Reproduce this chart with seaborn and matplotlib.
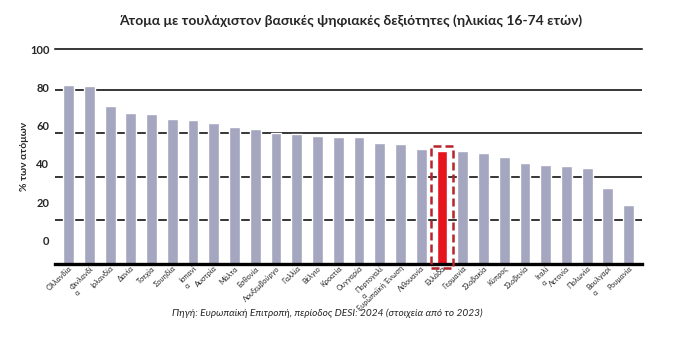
import matplotlib
matplotlib.use("Agg")
import matplotlib.pyplot as plt
from matplotlib.patches import Rectangle
import seaborn as sns
import pandas as pd

countries = ["Ολλανδία", "Φινλανδί\nα", "Ιρλανδία", "Δανία", "Τσεχία", "Σουηδία",
             "Ισπανί\nα", "Αυστρία", "Μάλτα", "Εσθονία", "Λουξεμβούργο", "Γαλλία",
             "Βέλγιο", "Κροατία", "Ουγγαρία", "Πορτογαλί\nα", "Ευρωπαϊκή Ένωση",
             "Λιθουανία", "Ελλάδα", "Γερμανία", "Σλοβακία", "Κύπρος", "Σλοβενία",
             "Ιταλί\nα", "Λετονία", "Πολωνία", "Βουλγαρί\nα", "Ρουμανία"]
values = [82.3, 81.7, 72.5, 69.3, 68.8, 66.4, 66.0, 64.6, 62.7, 62.0, 60.0, 59.6,
          58.9, 58.4, 58.5, 55.4, 55.3, 52.6, 51.8, 51.7, 50.8, 49.0, 46.3, 45.3,
          44.8, 43.9, 34.9, 27.2]
highlight = "Ελλάδα"
grid_values = [20, 40, 60, 80]
ytick_labels = [0, 20, 40, 60, 80, 100]

title = "Άτομα με τουλάχιστον βασικές ψηφιακές δεξιότητες (ηλικίας 16-74 ετών)"
ylabel = "% των ατόμων"
source = "Πηγή: Ευρωπαϊκή Επιτροπή, περίοδος DESI: 2024 (στοιχεία από το 2023)"

GRAY = "#A5A6BF"
RED = "#E6141C"
DARKRED = "#B5232B"

sns.set_theme(style="white")
plt.rcParams["font.family"] = ["Lato", "DejaVu Sans"]

df = pd.DataFrame({"country": countries, "value": values})
palette = {c: (RED if c == highlight else GRAY) for c in countries}

fig = plt.figure(figsize=(6.88, 3.39), dpi=100)
ax = fig.add_axes([0.0799, 0.2212, 0.8528, 0.6334])

sns.barplot(data=df, x="country", y="value", hue="country", palette=palette,
            legend=False, width=0.52, saturation=1, ax=ax)

ax.set_xlim(-0.66, len(countries) - 1 + 0.63)
ax.set_ylim(0, 97.4)

for g in grid_values:
    ax.axhline(g, color="black", lw=1.1, zorder=0.5)

for side in ["left", "right"]:
    ax.spines[side].set_visible(False)
ax.spines["top"].set_visible(True)
ax.spines["top"].set_color("black")
ax.spines["top"].set_linewidth(1.1)
ax.spines["bottom"].set_color("black")
ax.spines["bottom"].set_linewidth(2.4)
ax.spines["bottom"].set_zorder(5)

# y tick labels (offset from gridlines as in the source chart)
label_pos = [10.9 + 0.877 * v for v in ytick_labels]
ax.set_yticks(label_pos, labels=[str(v) for v in ytick_labels])
ax.tick_params(axis="y", length=0, pad=4, labelsize=8)
for t in ax.get_yticklabels():
    t.set_fontweight("bold")

ax.set_xlabel("")
ax.set_ylabel(ylabel, fontsize=7.5, fontweight="bold")
ax.yaxis.set_label_coords(-0.045, 0.5)

ax.xaxis.set_zorder(8)
ax.tick_params(axis="x", length=0, pad=0.5, labelsize=5.2)
ax.set_xticks(range(len(countries)))
ax.set_xticklabels(countries, rotation=44, ha="right", va="top",
                   rotation_mode="anchor")
for t in ax.get_xticklabels():
    t.set_multialignment("left")

# dashed highlight box around Greece
idx = countries.index(highlight)
hv = values[idx]
rect = Rectangle((idx - 0.51, -1.9), 1.02, hv + 2.3 + 1.9, fill=False,
                 edgecolor=DARKRED, lw=1.8, linestyle=(0, (3.2, 1.6)),
                 clip_on=False, zorder=6)
ax.add_patch(rect)

fig.text(0.509, 0.94, title, ha="center", va="center", fontsize=10,
         fontweight="bold")
fig.text(0.476, 0.077, source, ha="center", va="center", fontsize=7.3,
         style="italic")

fig.savefig("out.png", dpi=100)
